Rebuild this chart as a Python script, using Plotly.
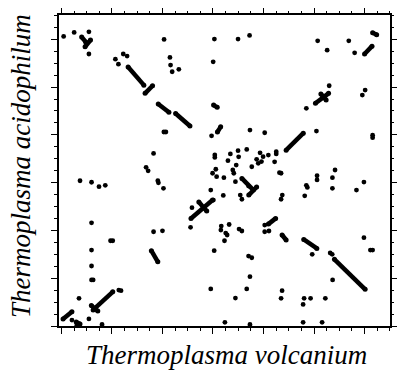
import plotly.graph_objects as go

# Genome positions in kb: x = T. volcanium, y = T. acidophilum
dot_x = [11, 63, 136, 136, 267, 282, 306, 325,
         508, 537, 540, 548, 581, 751, 757, 874, 931,
         1268, 1315, 1422, 1451, 1325, 1212, 1489, 1503,
         743, 933, 1006, 1262, 1540, 1540, 507, 517, 456, 419, 429,
         92, 149, 186, 217, 477, 480, 505,
         759, 759, 836, 874, 917, 877, 824, 865, 848, 853, 748, 764, 768, 804, 861, 926, 739, 801, 885, 893, 942,
         983, 1024, 966, 974, 990, 998, 1063, 1063, 1055, 1079, 1087, 1093, 1087, 1212, 1217, 1204, 1354, 1265, 1265, 1341, 1341, 1460, 1497,
         752, 646,
         791, 830, 789, 813, 820, 807, 879, 893,
         1006, 1006, 1027, 639, 456, 500, 149, 243, 254, 149, 149, 149, 157,
         756, 926, 942, 933, 739, 917, 861, 1241, 1330, 1340, 1342, 1497, 1529, 1540,
         1092, 1087, 1196, 1201, 1233, 1306, 1196, 1290, 809, 933,
         295, 284, 87, 136, 201, 52, 76]
dot_y = [1515, 1536, 1539, 1423, 1396, 1370, 1423, 1412,
         1499, 1405, 1365, 1330, 1343, 1382, 1501, 1501, 1520,
         1492, 1443, 1492, 1429, 1257, 1139, 1208, 1234,
         995, 1025, 1011, 1020, 985, 998, 1015, 1015, 903, 830, 812,
         760, 752, 729, 736, 760, 749, 720,
         882, 895, 900, 917, 924, 885, 865, 842, 816, 799, 799, 820, 781, 776, 755, 732, 711, 683, 685, 663, 833,
         906, 894, 872, 851, 860, 886, 912, 900, 859, 802, 799, 685, 663, 736, 725, 681, 816, 786, 764, 776, 720, 711, 753,
         659, 619,
         523, 531, 502, 486, 476, 446, 507, 497,
         528, 493, 497, 516, 493, 498, 540, 446, 446, 397, 314, 241, 241,
         394, 366, 357, 258, 194, 194, 146, 375, 382, 375, 241, 462, 397, 397,
         185, 145, 113, 145, 145, 145, 19, 19, 19, 8,
         185, 188, 145, 37, 8, 31, 3]

# Matching segments (start x, start y, end x, end y), kb
seg_x0 = [100, 144, 330, 414, 479, 565, 1500, 1540, 1257, 1284, 1112, 772, 641, 680,
          893, 927, 753, 1024, 445, 1092, 1199, 1351, 157, 148, 8, 73]
seg_y0 = [1512, 1496, 1355, 1217, 1161, 1112, 1423, 1534, 1165, 1214, 920, 1015, 562, 649,
          772, 685, 1156, 533, 394, 476, 453, 349, 84, 107, 37, 21]
seg_x1 = [120, 117, 408, 451, 532, 636, 1537, 1560, 1322, 1310, 1197, 788, 748, 719,
          950, 966, 771, 1060, 477, 1112, 1264, 1503, 254, 180, 52, 92]
seg_y1 = [1486, 1461, 1260, 1257, 1118, 1046, 1464, 1524, 1217, 1182, 1009, 1042, 659, 601,
          711, 727, 1144, 563, 336, 450, 406, 192, 179, 78, 75, 10]

x_title = "Thermoplasma volcanium"
y_title = "Thermoplasma acidophilum"

X_RANGE = [-12, 1626]
Y_RANGE = [0, 1627]
SERIF = "Liberation Serif, Times New Roman, serif"

lx, ly = [], []
for a, b, c, d in zip(seg_x0, seg_y0, seg_x1, seg_y1):
    lx += [a, c, None]
    ly += [b, d, None]

fig = go.Figure()
fig.add_trace(go.Scatter(x=lx, y=ly, mode="lines",
                         line=dict(color="black", width=4.5), hoverinfo="skip"))
fig.add_trace(go.Scatter(x=seg_x0 + seg_x1, y=seg_y0 + seg_y1, mode="markers",
                         marker=dict(color="black", size=5), hoverinfo="skip"))
fig.add_trace(go.Scatter(x=dot_x, y=dot_y, mode="markers",
                         marker=dict(color="black", size=4.8)))
# invisible trace so the mirrored tick axes (top/right) are drawn
fig.add_trace(go.Scatter(x=[X_RANGE[0]], y=[Y_RANGE[0]], mode="markers",
                         marker=dict(opacity=0), xaxis="x2", yaxis="y2", hoverinfo="skip"))

tick_common = dict(
    showgrid=False, zeroline=False, showticklabels=False,
    ticks="outside", ticklen=6, tickwidth=1.2, tickcolor="black",
    tick0=0, dtick=250,
    minor=dict(ticks="outside", ticklen=3, tickwidth=1.2, tickcolor="black", dtick=62.5, tick0=0),
)

fig.update_layout(
    width=400, height=371,
    margin=dict(l=59, r=4, t=15, b=45),
    plot_bgcolor="white", paper_bgcolor="white",
    showlegend=False,
    xaxis=dict(range=X_RANGE, showline=True, linecolor="black", linewidth=2, mirror=True, **tick_common),
    yaxis=dict(range=Y_RANGE, showline=True, linecolor="black", linewidth=2, mirror=True, **tick_common),
    xaxis2=dict(range=X_RANGE, overlaying="x", side="top", showline=False, **tick_common),
    yaxis2=dict(range=Y_RANGE, overlaying="y", side="right", showline=False, **tick_common),
    font=dict(family=SERIF, color="black"),
    annotations=[
        dict(text="<i>" + x_title + "</i>", xref="paper", yref="paper",
             x=0.507, y=-0.092, xanchor="center", yanchor="middle",
             showarrow=False, font=dict(size=27, family=SERIF)),
        dict(text="<i>" + y_title + "</i>", xref="paper", yref="paper",
             x=-0.115, y=0.514, xanchor="center", yanchor="middle", textangle=-90,
             showarrow=False, font=dict(size=27, family=SERIF)),
    ],
)

fig.write_html("out.html", config={"displayModeBar": False},
               post_script="document.body.style.margin='0';")
